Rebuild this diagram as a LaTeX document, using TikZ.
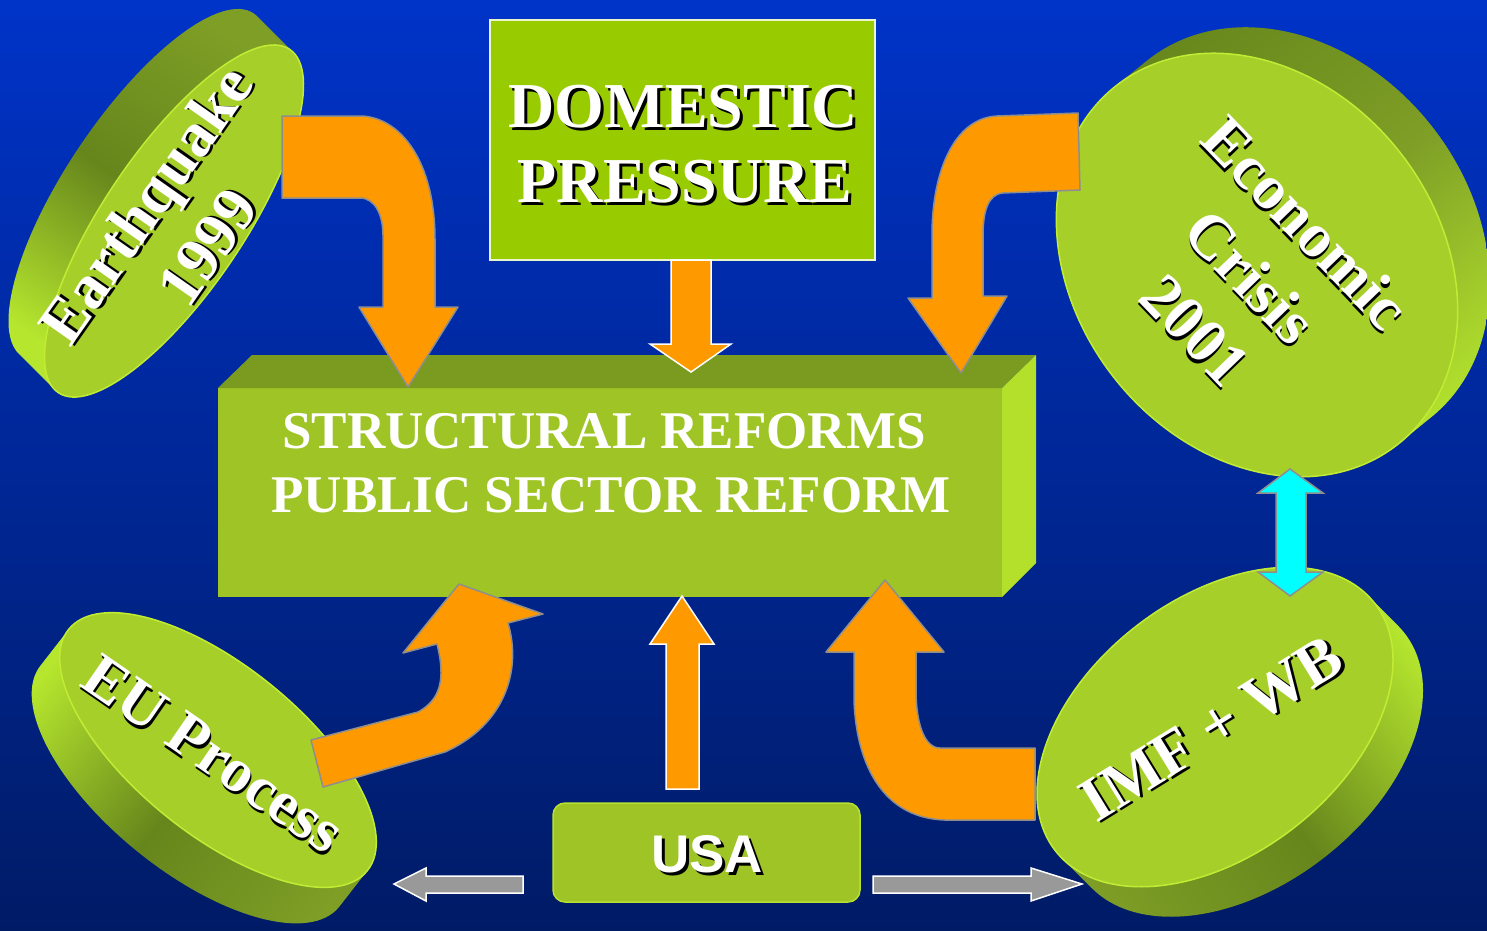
\documentclass[tikz,border=0pt]{standalone}
\usepackage{fontspec}
\setmainfont{Liberation Serif}
\newfontfamily\labelsans{Liberation Sans}

\definecolor{bgtop}{HTML}{0033C8}
\definecolor{bgbot}{HTML}{001B66}
\definecolor{lime}{HTML}{99CC00}
\definecolor{boxfront}{HTML}{9EC426}
\definecolor{boxtop}{HTML}{7A9A20}
\definecolor{boxside}{HTML}{B4E02C}
\definecolor{discface}{HTML}{A6CF2A}
\definecolor{discrim}{HTML}{C2EC34}
\definecolor{sidedark}{HTML}{66861C}
\definecolor{sidemid}{HTML}{7E9E26}
\definecolor{sidelight}{HTML}{B6E62E}
\definecolor{arroworange}{HTML}{FF9900}
\definecolor{arrowline}{HTML}{8E8E8E}
\definecolor{arrowgray}{HTML}{999999}
\definecolor{arrowcyan}{HTML}{00FFFF}

% white lettering with a black drop shadow in the text's own frame
\newcommand\shadowed[2][2.5pt]{\makebox[0pt][l]{\kern#1\raisebox{-#1}{\color{black}#2}}#2}

% a tilted disc: face centre, half axes, tilt, depth offset, side shading
\newcommand\tiltdisc[8]{%
  \shade[#8] \foreach \k in {0,...,24} {({#1+\k/24*(#6)},{#2+\k/24*(#7)}) ellipse [x radius=#3pt, y radius=#4pt, rotate=#5]};
  \path[fill=discface, draw=discrim, line width=1.5pt] (#1,#2) ellipse [x radius=#3pt, y radius=#4pt, rotate=#5];
}

\begin{document}
\begin{tikzpicture}[x=1pt, y=-1pt,
  disctext/.style={text=white, align=center, inner sep=0pt, font=\bfseries\fontsize{63}{75}\selectfont},
  boldtext/.style={text=white, anchor=base, inner sep=0pt},
  curvedarrow/.style={fill=arroworange, draw=arrowline, line width=1.5pt, line join=round},
  straightarrow/.style={fill=arroworange, draw=white, line width=1.5pt},
  sidearrow/.style={fill=arrowgray, draw=white, line width=1.5pt},
  linkarrow/.style={fill=arrowcyan, draw=arrowline, line width=1.5pt}]

\useasboundingbox (0,0) rectangle (1487,930);
\shade[top color=bgtop, bottom color=bgbot] (0,0) rectangle (1487,930);

% the four discs
\tiltdisc{174}{221}{207}{70}{56}{-36}{-36}{top color=sidemid, bottom color=sidelight, middle color=sidedark, shading angle=-34}
\tiltdisc{1257}{265}{228}{182}{-52}{32}{-26}{top color=sidedark, bottom color=sidelight, middle color=sidemid, shading angle=38}
\tiltdisc{218}{750}{192}{84}{-39}{-28}{36}{top color=sidelight, bottom color=sidemid, middle color=sidedark, shading angle=51}
\tiltdisc{1215}{727}{202}{128}{37.7}{30}{30}{top color=sidelight, bottom color=sidemid, middle color=sidedark, shading angle=-52}

\node[disctext, rotate=55] (quake) at (177,226) {\shadowed{Earthquake}\\\shadowed{1999}};
\node[disctext, rotate=-46, font=\bfseries\fontsize{63}{77}\selectfont] (crisis) at (1250,277) {\shadowed{Economic}\\\shadowed{Crisis}\\\shadowed{2001}};
\node[disctext, rotate=-34.6, font=\bfseries\fontsize{62}{70}\selectfont] (eu) at (213,755) {\shadowed{EU Process}};
\node[disctext, rotate=31.6] (imf) at (1212,730) {\shadowed{IMF + WB}};

% domestic pressure box
\path[fill=lime, draw=white!80!lime, line width=1.2pt] (490,20) rectangle (875,260);
\node[boldtext, font=\bfseries\fontsize{64}{70}\selectfont] (dom1) at (683,127) {\shadowed[3pt]{DOMESTIC}};
\node[boldtext, font=\bfseries\fontsize{64}{70}\selectfont] (dom2) at (685,202) {\shadowed[3pt]{PRESSURE}};

% reform block
\fill[boxfront] (218,388) rectangle (1002,597);
\fill[boxtop] (218,388) -- (252,355) -- (1036,355) -- (1002,388) -- cycle;
\fill[boxside] (1002,388) -- (1036,355) -- (1036,563) -- (1002,597) -- cycle;
\node[boldtext, font=\bfseries\fontsize{53}{60}\selectfont] (reform1) at (604,448) {STRUCTURAL REFORMS};
\node[boldtext, font=\bfseries\fontsize{53}{60}\selectfont] (reform2) at (611,512) {PUBLIC SECTOR REFORM};

% USA box
\path[fill=boxfront, draw=discrim!70!boxfront, line width=1.5pt, rounded corners=12pt] (553,803) rectangle (860,902);
\node[boldtext, font=\labelsans\bfseries\fontsize{53}{60}\selectfont] (usa) at (707,872) {\shadowed[3pt]{USA}};

% curved orange arrows
\draw[curvedarrow] (282,116) -- (362,116) .. controls (400,118) and (435,160) .. (435,240) -- (435,307)
  -- (458,307) -- (408,387) -- (359,307) -- (383,307) -- (383,235) .. controls (383,215) and (375,198) .. (360,198)
  -- (282,198) -- cycle;
\draw[curvedarrow] (1078,113) -- (997,116) .. controls (955,118) and (932,170) .. (932,235) -- (932,298)
  -- (908,298) -- (961,373) -- (1007,296) -- (983,296) -- (983,235) .. controls (983,212) and (988,194) .. (1003,193)
  -- (1080,190) -- cycle;
\draw[curvedarrow] (311,740) -- (418,712) .. controls (440,700) and (446,680) .. (437,644) -- (403,653)
  -- (459,584) -- (543,614) -- (508,623) .. controls (522,670) and (505,725) .. (445,752) -- (323,787) -- cycle;
\draw[curvedarrow] (1035,748) -- (940,748) .. controls (925,748) and (916,725) .. (916,690) -- (916,652)
  -- (944,652) -- (885,580) -- (826,652) -- (854,652) -- (854,700) .. controls (856,760) and (880,818) .. (945,820)
  -- (1035,820) -- cycle;

% straight orange arrows
\draw[straightarrow] (671,260) -- (711,260) -- (711,344) -- (731,344) -- (691,372) -- (650,344) -- (671,344) -- cycle;
\draw[straightarrow] (666,789) -- (666,644) -- (650,644) -- (682,596) -- (714,644) -- (699,644) -- (699,789) -- cycle;

% grey arrows beside USA
\draw[sidearrow] (523,876) -- (426,876) -- (426,868) -- (394,884) -- (426,901) -- (426,893) -- (523,893) -- cycle;
\draw[sidearrow] (873,876) -- (1031,876) -- (1031,868) -- (1082,884) -- (1031,901) -- (1031,893) -- (873,893) -- cycle;

% cyan double arrow
\draw[linkarrow] (1290,469) -- (1323,493) -- (1306,493) -- (1306,572) -- (1323,572) -- (1290,596) -- (1258,572)
  -- (1276,572) -- (1276,493) -- (1258,493) -- cycle;
\end{tikzpicture}
\end{document}
